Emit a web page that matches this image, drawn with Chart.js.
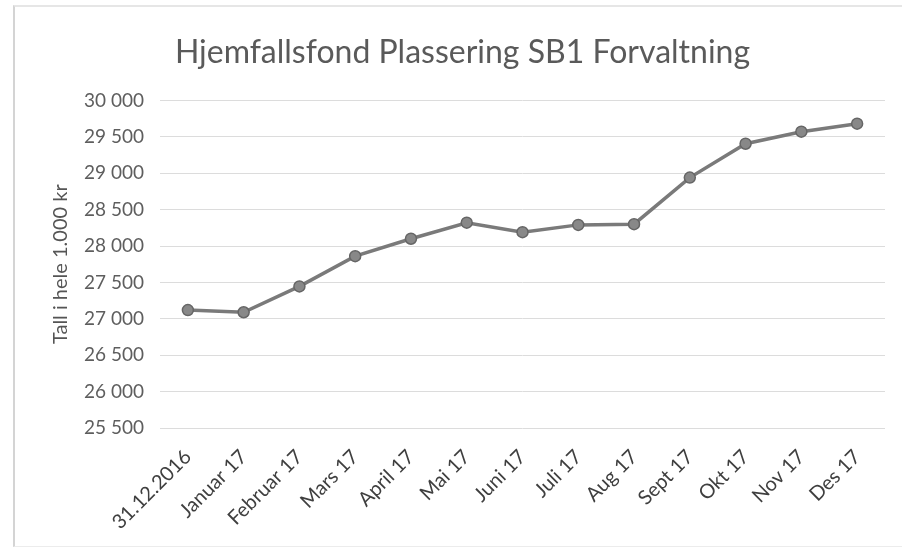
<!DOCTYPE html>
<html>
<head>
<meta charset="utf-8">
<script src="https://cdn.jsdelivr.net/npm/chart.js@4/dist/chart.umd.min.js"></script>
<style>
    html, body { margin: 0; padding: 0; background: #fff; }
    #wrap { position: relative; width: 902px; height: 551px; }
    #frame {
        position: absolute; left: 13px; top: 5px; width: 889px; height: 542px;
        border-left: 2px solid #d4d4d4; border-top: 2px solid #e6e6e6; border-bottom: 1px solid #ececec;
        box-sizing: border-box;
    }
    canvas { position: absolute; left: 0; top: 0; }
</style>
</head>
<body>
<div id="wrap">
    <div id="frame"></div>
    <canvas id="fund-chart" width="902" height="551"></canvas>
</div>
<script>
const months = ['31.12.2016', 'Januar 17', 'Februar 17', 'Mars 17', 'April 17', 'Mai 17',
    'Juni 17', 'Juli 17', 'Aug 17', 'Sept 17', 'Okt 17', 'Nov 17', 'Des 17'];
const fundValues = [27120, 27090, 27445, 27860, 28100, 28320, 28190, 28290, 28300, 28940, 29405, 29570, 29680];
const yMin = 25500;
const yMax = 30000;
const yStep = 500;

// "30 000" style labels
function formatThousands(v) {
    const th = Math.floor(v / 1000);
    const rest = String(v % 1000).padStart(3, '0');
    return th + ' ' + rest;
}

new Chart('fund-chart', {
    type: 'line',
    data: {
        labels: months,
        datasets: [{
            label: 'Hjemfallsfond',
            data: fundValues,
            borderColor: '#7a7a7a',
            borderWidth: 3.5,
            pointRadius: 5.5,
            pointBackgroundColor: '#888888',
            pointBorderColor: '#666666',
            pointBorderWidth: 1.5,
            tension: 0
        }]
    },
    options: {
        responsive: false,
        animation: false,
        layout: { padding: { left: 40, right: 17, top: 0, bottom: 0 } },
        plugins: {
            legend: { display: false },
            tooltip: { enabled: false },
            title: {
                display: true,
                text: 'Hjemfallsfond Plassering SB1 Forvaltning',
                color: '#5a5a5a',
                font: { family: 'Lato', size: 32, weight: 'normal' },
                padding: { top: 33, bottom: 29 }
            }
        },
        scales: {
            x: {
                offset: true,
                grid: { display: false },
                border: { display: false },
                ticks: {
                    color: '#3f3f3f',
                    font: { family: 'Lato', size: 20 },
                    maxRotation: 45,
                    minRotation: 45,
                    padding: 9
                },
                afterFit: (scale) => { scale.height = 123; }
            },
            y: {
                min: yMin,
                max: yMax,
                grid: { color: '#dcdcdc', lineWidth: 1, drawTicks: false },
                border: { display: false },
                ticks: {
                    stepSize: yStep,
                    color: '#5e5e5e',
                    font: { family: 'Lato', size: 19 },
                    padding: 16,
                    callback: (v) => formatThousands(v)
                },
                title: {
                    display: true,
                    text: 'Tall i hele 1.000 kr',
                    color: '#555555',
                    font: { family: 'Lato', size: 20 },
                    padding: { top: 9, bottom: 0 }
                },
                afterFit: (scale) => { scale.width = 120; }
            }
        }
    }
});
</script>
</body>
</html>
